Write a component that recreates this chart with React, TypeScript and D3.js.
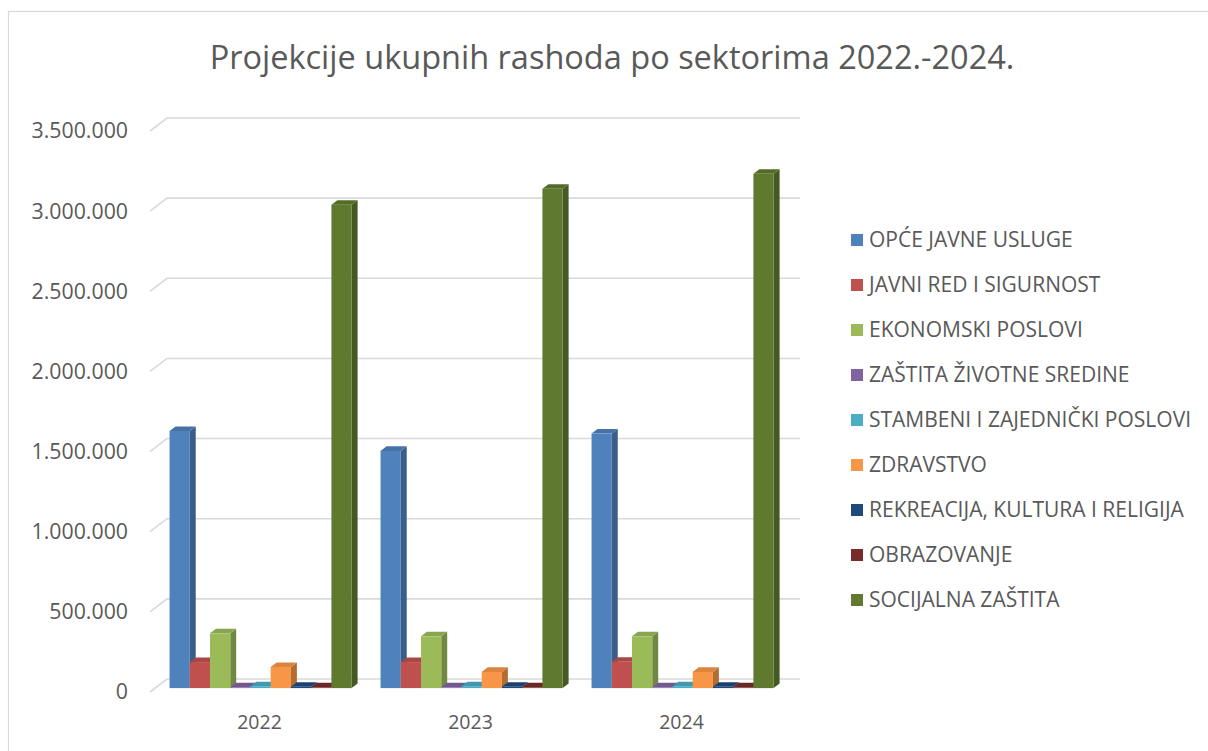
import React from "react";
import * as d3 from "d3";

const categories = ["2022", "2023", "2024"];
const seriesNames = [
  "OPĆE JAVNE USLUGE",
  "JAVNI RED I SIGURNOST",
  "EKONOMSKI POSLOVI",
  "ZAŠTITA ŽIVOTNE SREDINE",
  "STAMBENI I ZAJEDNIČKI POSLOVI",
  "ZDRAVSTVO",
  "REKREACIJA, KULTURA I RELIGIJA",
  "OBRAZOVANJE",
  "SOCIJALNA ZAŠTITA",
];
const opceJavneUsluge = [1604000, 1480000, 1588000];
const javniRed = [162000, 162000, 164000];
const ekonomskiPoslovi = [342000, 323000, 323000];
const zastitaSredine = [5000, 5000, 5000];
const stambeni = [12000, 12000, 12000];
const zdravstvo = [132000, 101000, 101000];
const rekreacija = [8000, 8000, 8000];
const obrazovanje = [5000, 5000, 5000];
const socijalna = [3016000, 3115000, 3209000];
const seriesValues = [
  opceJavneUsluge,
  javniRed,
  ekonomskiPoslovi,
  zastitaSredine,
  stambeni,
  zdravstvo,
  rekreacija,
  obrazovanje,
  socijalna,
];
const colors = [
  "#4F81BD",
  "#C0504D",
  "#9BBB59",
  "#8064A2",
  "#4BACC6",
  "#F79646",
  "#1F497D",
  "#772C2A",
  "#5F7A2F",
];
const yTicks = [0, 500000, 1000000, 1500000, 2000000, 2500000, 3000000, 3500000];

const FONT = "'Open Sans', sans-serif";
const TEXT = "#595959";
const GRID = "#D9D9D9";

const fmt = (v: number) =>
  v === 0 ? "0" : d3.format(",")(v).replace(/,/g, ".");

export default function App() {
  const W = 1208;
  const H = 751;
  const DX = 17;
  const DY = -13;
  const d0 = 0.3;
  const d1 = 0.65;

  const x = d3
    .scaleBand<string>()
    .domain(categories)
    .range([150, 783])
    .paddingInner(0.137)
    .paddingOuter(0.0685);
  const xs = d3
    .scaleBand<number>()
    .domain(d3.range(seriesNames.length))
    .range([0, x.bandwidth()]);
  const y = d3.scaleLinear().domain([0, 3500000]).range([692, 131]);

  const P = (px: number, py: number, d: number): [number, number] => [
    px + DX * d,
    py + DY * d,
  ];
  const pts = (a: [number, number][]) => a.map((p) => p.join(",")).join(" ");

  const bars: JSX.Element[] = [];
  categories.forEach((c, ci) => {
    seriesNames.forEach((s, si) => {
      const v = seriesValues[si][ci];
      const x0 = (x(c) as number) + (xs(si) as number);
      const x1 = x0 + xs.bandwidth();
      const yb = y(0);
      const yt = y(v);
      const col = d3.color(colors[si]) as d3.RGBColor;
      const side = col.darker(0.9).formatHex();
      const top = col.darker(0.35).formatHex();
      bars.push(
        <g key={`${ci}-${si}`}>
          <polygon
            points={pts([P(x1, yb, d0), P(x1, yb, d1), P(x1, yt, d1), P(x1, yt, d0)])}
            fill={side}
          />
          <polygon
            points={pts([P(x0, yt, d0), P(x1, yt, d0), P(x1, yt, d1), P(x0, yt, d1)])}
            fill={top}
          />
          <rect
            x={P(x0, yt, d0)[0]}
            y={P(x0, yt, d0)[1]}
            width={x1 - x0}
            height={Math.max(0, yb - yt)}
            fill={colors[si]}
          />
        </g>
      );
    });
  });

  const legendY0 = 240;
  const legendStep = 45;

  return (
    <svg width={W} height={H} style={{ position: "absolute", left: 0, top: 0, background: "#fff" }}>
      <rect x={8.5} y={11.5} width={W + 20} height={H + 20} fill="#fff" stroke={GRID} strokeWidth={1.2} />
      <text x={612} y={69} textAnchor="middle" fontFamily={FONT} fontSize={32.5} fill={TEXT}>
        Projekcije ukupnih rashoda po sektorima 2022.-2024.
      </text>
      {yTicks.map((t) => {
        const [fx, fy] = P(150, y(t), 0);
        const [bx, by] = P(150, y(t), 1);
        return (
          <g key={t}>
            <polyline
              points={pts([[fx, fy], [bx, by], [800, by]])}
              fill="none"
              stroke={GRID}
              strokeWidth={1.6}
            />
            <text
              x={128}
              y={fy}
              dy="0.35em"
              textAnchor="end"
              fontFamily={FONT}
              fontSize={21.3}
              fill={TEXT}
            >
              {fmt(t)}
            </text>
          </g>
        );
      })}
      {bars}
      {categories.map((c) => (
        <text
          key={c}
          x={(x(c) as number) + x.bandwidth() / 2 + 4}
          y={722}
          dy="0.35em"
          textAnchor="middle"
          fontFamily={FONT}
          fontSize={19.5}
          fill={TEXT}
        >
          {c}
        </text>
      ))}
      {seriesNames.map((s, i) => (
        <g key={s}>
          <rect x={851} y={legendY0 + i * legendStep - 6} width={12} height={12} fill={colors[i]} />
          <text
            x={869}
            y={legendY0 + i * legendStep}
            dy="0.35em"
            fontFamily={FONT}
            fontSize={21}
            fill={TEXT}
          >
            {s}
          </text>
        </g>
      ))}
    </svg>
  );
}
